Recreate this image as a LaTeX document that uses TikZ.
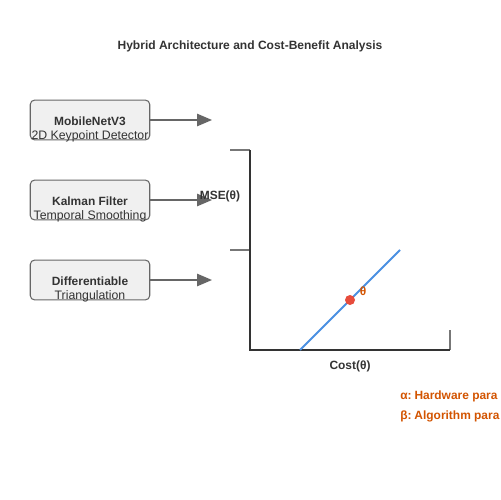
\documentclass[tikz,border=0pt]{standalone}
\usepackage{fontspec}
\setmainfont{Liberation Sans}
\usetikzlibrary{arrows.meta}
\definecolor{txt}{HTML}{333333}
\definecolor{boxfill}{HTML}{F0F0F0}
\definecolor{boxdraw}{HTML}{666666}
\definecolor{arr}{HTML}{666666}
\definecolor{axis}{HTML}{333333}
\definecolor{tick}{HTML}{777777}
\definecolor{lineblue}{HTML}{4A90E2}
\definecolor{dotred}{HTML}{E74C3C}
\definecolor{orng}{HTML}{D35400}
\tikzset{
  stagebox/.style={draw=boxdraw, fill=boxfill, rounded corners=2.5pt, line width=0.6pt, minimum width=68pt, minimum height=22.7pt, inner sep=0pt},
  boldlbl/.style={font=\fontsize{6.8pt}{8pt}\selectfont\bfseries, text=txt, inner sep=0pt},
  reglbl/.style={font=\fontsize{7pt}{8pt}\selectfont, text=txt, inner sep=0pt},
  flowarrow/.style={draw=arr, line width=1pt, -{Triangle[length=8.5pt,width=7pt]}},
  axisline/.style={draw=axis, line width=1pt},
  tickline/.style={draw=tick, line width=1pt},
  legend/.style={font=\fontsize{6.8pt}{8pt}\selectfont\bfseries, text=orng, inner sep=0pt, anchor=west}
}
\begin{document}
\begin{tikzpicture}[x=0.02cm,y=-0.02cm]
\useasboundingbox[fill=white] (0,0) rectangle (500,500);
\node[font=\fontsize{6.85pt}{8pt}\selectfont\bfseries, text=txt, inner sep=0pt] (title) at (250,46.5) {Hybrid Architecture and Cost-Benefit Analysis};
% boxes
\node[stagebox] (b1) at (90,120) {};
\node[stagebox] (b2) at (90,200) {};
\node[stagebox] (b3) at (90,280) {};
\node[boldlbl] (b1a) at (90,121.5) {MobileNetV3};
\node[reglbl] (b1b) at (90,136.5) {2D Keypoint Detector};
\node[boldlbl] (b2a) at (90,201.5) {Kalman Filter};
\node[reglbl] (b2b) at (90,216.5) {Temporal Smoothing};
\node[boldlbl] (b3a) at (90,281.5) {Differentiable};
\node[reglbl] (b3b) at (90,296.5) {Triangulation};
% arrow ends
\coordinate (e1) at (212,120);
\coordinate (e2) at (212,200);
\coordinate (e3) at (212,280);
\draw[flowarrow] (b1.east) -- (e1);
\draw[flowarrow] (b2.east) -- (e2);
\draw[flowarrow] (b3.east) -- (e3);
% axes
\coordinate (o) at (250,350);
\coordinate (ytop) at (250,150);
\coordinate (xend) at (450,350);
\coordinate (t1a) at (230,150);
\coordinate (t2a) at (230,250);
\coordinate (t2b) at (250,250);
\coordinate (t3a) at (450,330);
\draw[tickline] (t1a) -- (ytop);
\draw[tickline] (t2a) -- (t2b);
\draw[tickline] (t3a) -- (xend);
\draw[axisline] (ytop) -- (o) -- (xend);
\node[boldlbl] (mse) at (220,196.5) {MSE(θ)};
\node[boldlbl] (cost) at (350,366.5) {Cost(θ)};
% curve
\coordinate (l1) at (300,350);
\coordinate (l2) at (400,250);
\draw[lineblue, line width=1.1pt] (l1) -- (l2);
\fill[dotred] (350,300) circle (5);
\node[font=\fontsize{6.8pt}{8pt}\selectfont\bfseries, text=orng, inner sep=0pt] (th) at (363,291.5) {θ};
\node[legend] (la) at (400,396.5) {α:\kern-0.9pt{} Hardware para};
\node[legend] (lb) at (400,416.5) {β:\kern-0.9pt{} Algorithm para};
\end{tikzpicture}
\end{document}
